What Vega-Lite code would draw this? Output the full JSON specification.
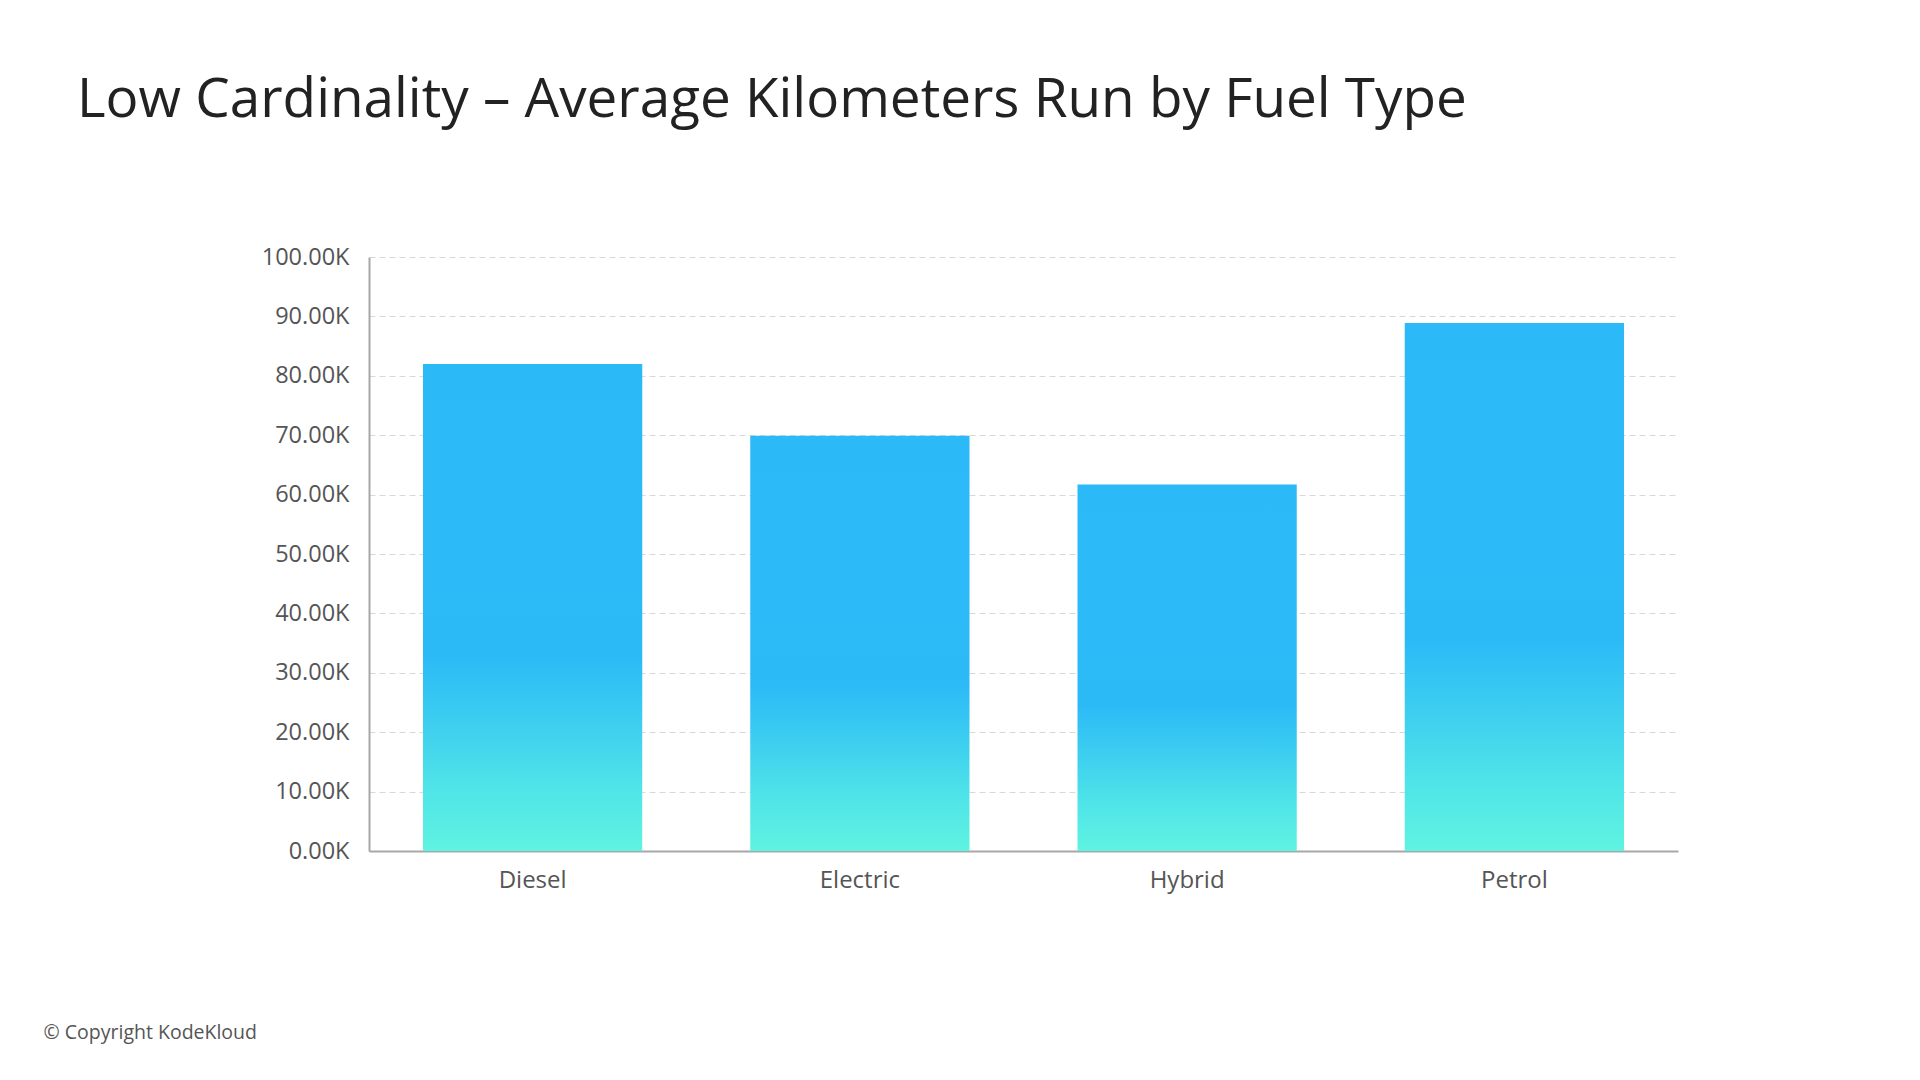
{
  "$schema": "https://vega.github.io/schema/vega-lite/v6.json",
  "autosize": {"type": "none"},
  "width": 1309,
  "height": 594,
  "padding": {"left": 369, "top": 257, "right": 242, "bottom": 229},
  "background": "#ffffff",
  "title": {
    "text": "Low Cardinality – Average Kilometers Run by Fuel Type",
    "anchor": "start",
    "frame": "group",
    "orient": "top",
    "dx": -292,
    "dy": -112,
    "font": "Open Sans",
    "fontSize": 54.8,
    "fontWeight": "normal",
    "color": "#222222"
  },
  "data": {
    "values": [
      {"fuel": "Diesel", "avg_km": 82000},
      {"fuel": "Electric", "avg_km": 69900},
      {"fuel": "Hybrid", "avg_km": 61700},
      {"fuel": "Petrol", "avg_km": 88900}
    ]
  },
  "mark": {
    "type": "bar",
    "color": {
      "gradient": "linear",
      "x1": 0, "y1": 1, "x2": 0, "y2": 0,
      "stops": [
        {"offset": 0, "color": "#5ff3e1"},
        {"offset": 0.13, "color": "#4fe4e8"},
        {"offset": 0.27, "color": "#3ccdf0"},
        {"offset": 0.4, "color": "#2cbaf7"},
        {"offset": 1, "color": "#2bb9f8"}
      ]
    }
  },
  "encoding": {
    "x": {
      "field": "fuel",
      "type": "nominal",
      "sort": null,
      "scale": {"paddingInner": 0.33, "paddingOuter": 0.165},
      "axis": {
        "title": "© Copyright KodeKloud",
        "titleX": -326,
        "titleY": 187,
        "titleAlign": "left",
        "titleAnchor": null,
        "titleBaseline": "alphabetic",
        "titleFont": "Open Sans",
        "titleFontSize": 19.5,
        "titleFontWeight": "normal",
        "titleColor": "#555555",
        "labelAngle": 0,
        "labelFont": "Open Sans",
        "labelFontSize": 24,
        "labelColor": "#555555",
        "labelPadding": 17,
        "ticks": false,
        "grid": false,
        "domain": true,
        "domainColor": "#a8a8a8",
        "domainWidth": 2
      }
    },
    "y": {
      "field": "avg_km",
      "type": "quantitative",
      "scale": {"domain": [0, 100000], "nice": false},
      "axis": {
        "title": null,
        "values": [0, 10000, 20000, 30000, 40000, 50000, 60000, 70000, 80000, 90000, 100000],
        "labelExpr": "format(datum.value / 1000, '.2f') + 'K'",
        "labelFont": "Open Sans",
        "labelFontSize": 23.5,
        "labelColor": "#555555",
        "labelPadding": 20,
        "ticks": false,
        "domain": true,
        "domainColor": "#a8a8a8",
        "domainWidth": 2,
        "grid": true,
        "gridColor": "#d8d8d8",
        "gridDash": [6, 4],
        "gridWidth": 1
      }
    }
  },
  "config": {
    "view": {"stroke": null}
  }
}
